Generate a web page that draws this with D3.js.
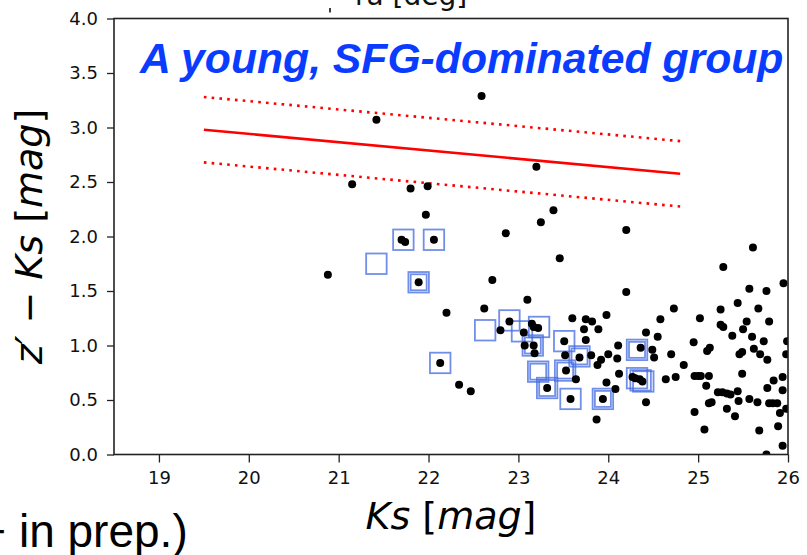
<!DOCTYPE html>
<html>
<head>
<meta charset="utf-8">
<script src="https://cdn.jsdelivr.net/npm/d3@7"></script>
<style>
  body { margin: 0; background: #fff; }
  svg { display: block; }
</style>
</head>
<body>
<div id="chart"></div>
<script>
// member galaxies: Ks magnitude and z'-Ks colour
const dotKs = [20.88,21.15,21.42,21.70,21.74,21.80,21.89,21.97,21.99,22.06,22.13,22.20,22.34,22.47,22.59,22.62,22.71,22.80,22.86,22.90,
  23.06,23.07,23.10,23.15,23.17,23.22,23.17,23.18,23.20,23.25,23.32,23.39,23.46,23.51,23.52,23.53,23.58,23.60,23.64,23.68,
  23.73,23.75,23.75,23.82,23.81,23.87,23.88,23.89,23.92,23.94,23.98,23.98,24.00,24.08,24.11,24.10,24.12,24.20,24.20,24.27,
  24.30,24.35,24.38,24.36,24.42,24.42,24.49,24.51,24.55,24.58,24.64,24.70,24.73,24.75,24.84,24.95,24.96,25.00,25.03,24.96,
  25.02,25.07,25.09,25.10,25.13,25.12,25.12,25.15,25.22,25.27,25.32,25.36,25.25,25.25,25.28,25.28,25.32,25.38,25.41,25.44,
  25.44,25.45,25.46,25.49,25.49,25.50,25.54,25.57,25.57,25.61,25.60,25.62,25.66,25.67,25.68,25.69,25.73,25.76,25.77,25.77,
  25.76,25.79,25.79,25.83,25.88,25.84,25.89,25.91,25.94,25.94,25.94,25.95,25.99,25.98,25.98];
const dotColor = [1.65,2.48,3.07,1.97,1.95,2.44,1.58,2.20,2.46,1.97,0.84,1.30,0.64,0.58,3.29,1.34,1.60,1.14,2.03,1.22,
  1.12,1.00,1.42,1.20,1.17,1.16,1.00,0.93,2.64,2.13,0.61,2.24,1.80,1.04,0.91,0.77,0.51,1.25,0.69,0.89,
  1.15,1.24,1.05,1.22,0.91,0.32,0.82,1.15,0.87,0.51,1.28,0.66,0.92,0.60,1.00,0.88,0.74,2.06,1.49,0.71,
  0.70,0.69,0.67,0.98,1.12,0.48,0.96,0.89,1.08,1.24,0.69,0.92,1.34,0.71,0.82,1.03,0.72,0.72,0.72,0.39,
  1.25,0.23,0.63,0.95,0.98,0.72,0.47,0.48,0.57,0.57,0.56,0.55,1.33,1.19,1.17,1.72,0.42,1.09,0.35,1.39,
  0.58,0.49,0.92,0.94,0.74,1.15,1.22,1.52,0.51,1.90,1.08,0.97,0.48,1.34,0.22,0.92,1.04,1.50,0.87,0.61,
  0.00,1.22,0.47,0.47,0.47,0.68,0.26,0.38,0.71,0.59,0.08,1.57,1.04,0.92,0.42];

// SFG-selected objects (open squares); outlines = number of overlapping boxes
const sqKs = [21.42,21.72,22.06,21.89,22.13,22.63,22.90,23.04,23.23,23.16,23.51,23.68,23.22,23.52,23.32,23.58,23.94,24.32,24.32,24.36,24.39];
const sqColor = [1.75,1.97,1.97,1.58,0.84,1.14,1.23,1.13,1.17,1.00,1.04,0.90,0.76,0.77,0.61,0.51,0.51,0.96,0.70,0.68,0.67];
const sqOutlines = [1,1,1,2,1,1,1,1,1,2,1,2,2,2,2,1,2,2,1,1,1];

// red sequence fit and its +/- band
const rsKs = [19.5, 24.8];
const rsColor = [2.98, 2.575];
const rsBand = 0.3;

const xTicks = [19, 20, 21, 22, 23, 24, 25, 26];
const yTicks = [0.0, 0.5, 1.0, 1.5, 2.0, 2.5, 3.0, 3.5, 4.0];

(function () {
  const width = 807, height = 555;
  const left = 114, right = 788, top = 18.5, bottom = 454.5;

  const svg = d3.select("#chart")
    .append("svg")
    .attr("width", width)
    .attr("height", height)
    .style("font-family", "'DejaVu Sans', sans-serif");

  svg.append("rect").attr("width", width).attr("height", height).attr("fill", "#fff");

  const x = d3.scaleLinear().domain([18.5, 26]).range([left, right]);
  const y = d3.scaleLinear().domain([0, 4]).range([bottom, top]);

  svg.append("clipPath").attr("id", "plot-clip")
    .append("rect")
    .attr("x", left).attr("y", top)
    .attr("width", right - left).attr("height", bottom - top);

  const plot = svg.append("g").attr("clip-path", "url(#plot-clip)");

  // red sequence lines
  const line = d3.line().x(d => x(d[0])).y(d => y(d[1]));
  const rs = rsKs.map((k, i) => [k, rsColor[i]]);
  plot.append("path")
    .attr("d", line(rs))
    .attr("fill", "none")
    .attr("stroke", "#ff0000")
    .attr("stroke-width", 2.6);
  [rsBand, -rsBand].forEach(off => {
    plot.append("path")
      .attr("d", line(rs.map(d => [d[0], d[1] + off])))
      .attr("fill", "none")
      .attr("stroke", "#ff0000")
      .attr("stroke-width", 2.6)
      .attr("stroke-dasharray", "2.6,5.2");
  });

  // open squares
  const squares = sqKs.map((k, i) => ({ k, c: sqColor[i], n: sqOutlines[i] }));
  squares.forEach(s => {
    const sizes = s.n === 2 ? [20.5, 16] : [20.5];
    sizes.forEach(sz => {
      plot.append("rect")
        .attr("x", x(s.k) - sz / 2)
        .attr("y", y(s.c) - sz / 2)
        .attr("width", sz)
        .attr("height", sz)
        .attr("fill", "none")
        .attr("stroke", "#4169e1")
        .attr("stroke-opacity", 0.75)
        .attr("stroke-width", 1.8);
    });
  });

  // member dots
  plot.selectAll(".dot")
    .data(dotKs.map((k, i) => [k, dotColor[i]]))
    .enter()
    .append("circle")
    .attr("class", "dot")
    .attr("cx", d => x(d[0]))
    .attr("cy", d => y(d[1]))
    .attr("r", 4)
    .attr("fill", "#000");

  // axes
  const xAxis = svg.append("g")
    .attr("transform", `translate(0,${bottom})`)
    .call(d3.axisBottom(x).tickValues(xTicks).tickSize(8).tickPadding(9).tickFormat(d3.format("d")));
  const yAxis = svg.append("g")
    .attr("transform", `translate(${left},0)`)
    .call(d3.axisLeft(y).tickValues(yTicks).tickSize(7).tickPadding(9).tickFormat(d3.format(".1f")));
  [xAxis, yAxis].forEach(g => {
    g.select(".domain").remove();
    g.selectAll(".tick line").attr("stroke", "#222").attr("stroke-width", 1.3);
    g.selectAll(".tick text")
      .attr("fill", "#111")
      .style("font-family", "'DejaVu Sans', sans-serif")
      .style("font-size", "18px");
  });

  svg.append("rect")
    .attr("x", left).attr("y", top)
    .attr("width", right - left).attr("height", bottom - top)
    .attr("fill", "none")
    .attr("stroke", "#222")
    .attr("stroke-width", 1.6);

  // axis labels
  const xl = svg.append("text")
    .attr("x", (left + right) / 2)
    .attr("y", 529)
    .attr("text-anchor", "middle")
    .style("font-size", "38px");
  xl.append("tspan").style("font-style", "italic").text("Ks");
  xl.append("tspan").text(" [");
  xl.append("tspan").style("font-style", "italic").text("mag");
  xl.append("tspan").text("]");

  const yl = svg.append("text")
    .attr("transform", `translate(42,${(top + bottom) / 2}) rotate(-90)`)
    .attr("text-anchor", "middle")
    .style("font-size", "38px");
  yl.append("tspan").style("font-style", "italic").text("z′");
  yl.append("tspan").text(" − ");
  yl.append("tspan").style("font-style", "italic").text("Ks");
  yl.append("tspan").text(" [");
  yl.append("tspan").style("font-style", "italic").text("mag");
  yl.append("tspan").text("]");

  // title inside the panel
  svg.append("text")
    .attr("x", 140)
    .attr("y", 72.5)
    .attr("fill", "#0a3cff")
    .style("font-family", "'Liberation Sans', Arial, sans-serif")
    .style("font-size", "42.7px")
    .style("font-weight", "bold")
    .style("font-style", "italic")
    .text("A young, SFG-dominated group");

  // cropped neighbours from the slide
  svg.append("text")
    .attr("x", 355)
    .attr("y", 5)
    .style("font-size", "28px")
    .attr("fill", "#111")
    .text("ra [deg]");
  svg.append("line")
    .attr("x1", 330).attr("x2", 330).attr("y1", 8).attr("y2", 12.5)
    .attr("stroke", "#111").attr("stroke-width", 1.6);

  svg.append("text")
    .attr("x", -20.7)
    .attr("y", 546.7)
    .attr("fill", "#000")
    .style("font-family", "'Liberation Sans', Arial, sans-serif")
    .style("font-size", "46px")
    .text("+ in prep.)");
})();
</script>
</body>
</html>
